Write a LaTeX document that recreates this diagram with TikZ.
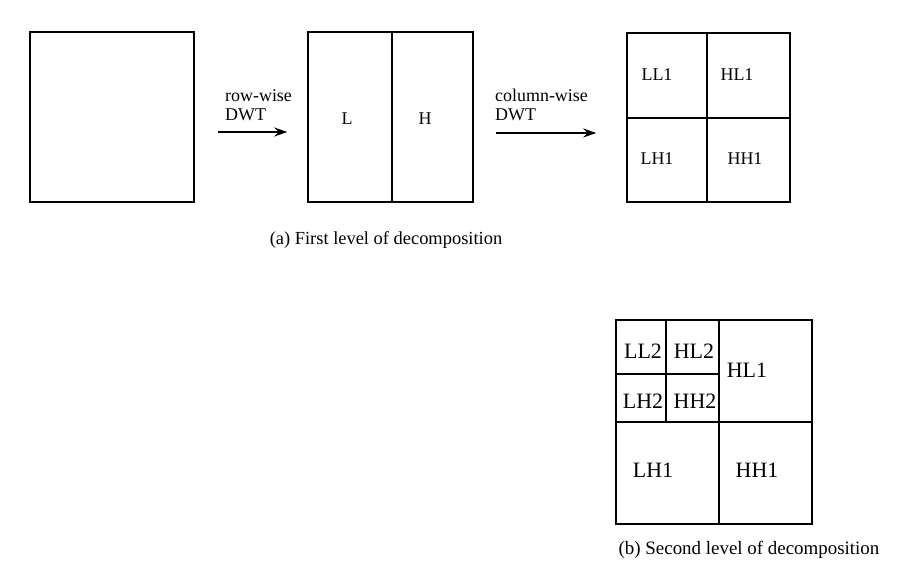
\documentclass[tikz,border=0pt]{standalone}
\usepackage{fontspec}
\setmainfont{Liberation Serif}
\usetikzlibrary{positioning}
\usetikzlibrary{arrows.meta}

\tikzset{
  partBox/.style={draw, line width=1.5bp, inner sep=0pt},
  dwtArrow/.style={line width=1.6bp, -{Stealth[length=13bp, width=9bp]}},
  stepText/.style={anchor=base west, inner sep=0pt, font=\fontsize{18}{20}\selectfont},
  quadLabel/.style={inner sep=0pt, font=\fontsize{18}{20}\selectfont},
  quadLabelBig/.style={inner sep=0pt, font=\fontsize{22}{24}\selectfont},
  captionText/.style={anchor=base, inner sep=0pt}
}

\begin{document}
\begin{tikzpicture}[x=1bp,y=-1bp]
\useasboundingbox (0,0) rectangle (907,582);

% first level
\begin{scope}
% input image
\node[partBox, minimum width=164bp, minimum height=170bp] (img) at (112, 117) {};

% row-wise result
\node[partBox, minimum width=84bp, minimum height=170bp] (lowBand) at (350, 117) {};
\node[partBox, minimum width=81bp, minimum height=170bp] (highBand) at (432.5, 117) {};
\node[quadLabel] (lowText) at (347, 119) {L};
\node[quadLabel] (highText) at (425, 119) {H};

% column-wise result
\node[partBox, minimum width=80bp, minimum height=85bp] (llA) at (667, 75.5) {};
\node[partBox, minimum width=83bp, minimum height=85bp] (hlA) at (748.5, 75.5) {};
\node[partBox, minimum width=80bp, minimum height=84bp] (lhA) at (667, 160) {};
\node[partBox, minimum width=83bp, minimum height=84bp] (hhA) at (748.5, 160) {};
\node[quadLabel] (llAText) at (657, 74.5) {LL1};
\node[quadLabel] (hlAText) at (737, 74.5) {HL1};
\node[quadLabel] (lhAText) at (657, 158.5) {LH1};
\node[quadLabel] (hhAText) at (745, 158.5) {HH1};

% arrows
\draw[dwtArrow] ([shift={(23,15)}]img.east) -- ([shift={(-20,15)}]lowBand.west);
\node[stepText] (rowText) at (225, 102) {row-wise};
\node[stepText] (rowDwt) at (225, 120.5) {DWT};
\draw[dwtArrow] ([shift={(22,16)}]highBand.east) -- ([shift={(-30,16)}]lhA.west |- highBand.east);
\node[stepText] (colText) at (495, 102) {column-wise};
\node[stepText] (colDwt) at (495, 120.5) {DWT};

\node[captionText, font=\fontsize{18.5}{20}\selectfont] (capA) at (386, 245) {(a) First level of decomposition};
\end{scope}

% second level
\begin{scope}
\node[partBox, minimum width=50bp, minimum height=54bp] (llB) at (641, 347) {};
\node[partBox, minimum width=53bp, minimum height=54bp] (hlB) at (692.5, 347) {};
\node[partBox, minimum width=50bp, minimum height=48bp] (lhB) at (641, 398) {};
\node[partBox, minimum width=53bp, minimum height=48bp] (hhB) at (692.5, 398) {};
\node[partBox, minimum width=93bp, minimum height=102bp] (hlC) at (765.5, 371) {};
\node[partBox, minimum width=103bp, minimum height=102bp] (lhC) at (667.5, 473) {};
\node[partBox, minimum width=93bp, minimum height=102bp] (hhC) at (765.5, 473) {};

\node[quadLabelBig] (llBText) at (643, 351) {LL2};
\node[quadLabelBig] (hlBText) at (694, 351) {HL2};
\node[quadLabelBig] (lhBText) at (643, 401) {LH2};
\node[quadLabelBig] (hhBText) at (695, 401) {HH2};
\node[quadLabelBig] (hlCText) at (747, 370) {HL1};
\node[quadLabelBig] (lhCText) at (653, 470) {LH1};
\node[quadLabelBig] (hhCText) at (757, 470) {HH1};

\node[captionText, font=\fontsize{19}{21}\selectfont] (capB) at (749, 554) {(b) Second level of decomposition};
\end{scope}
\end{tikzpicture}
\end{document}
